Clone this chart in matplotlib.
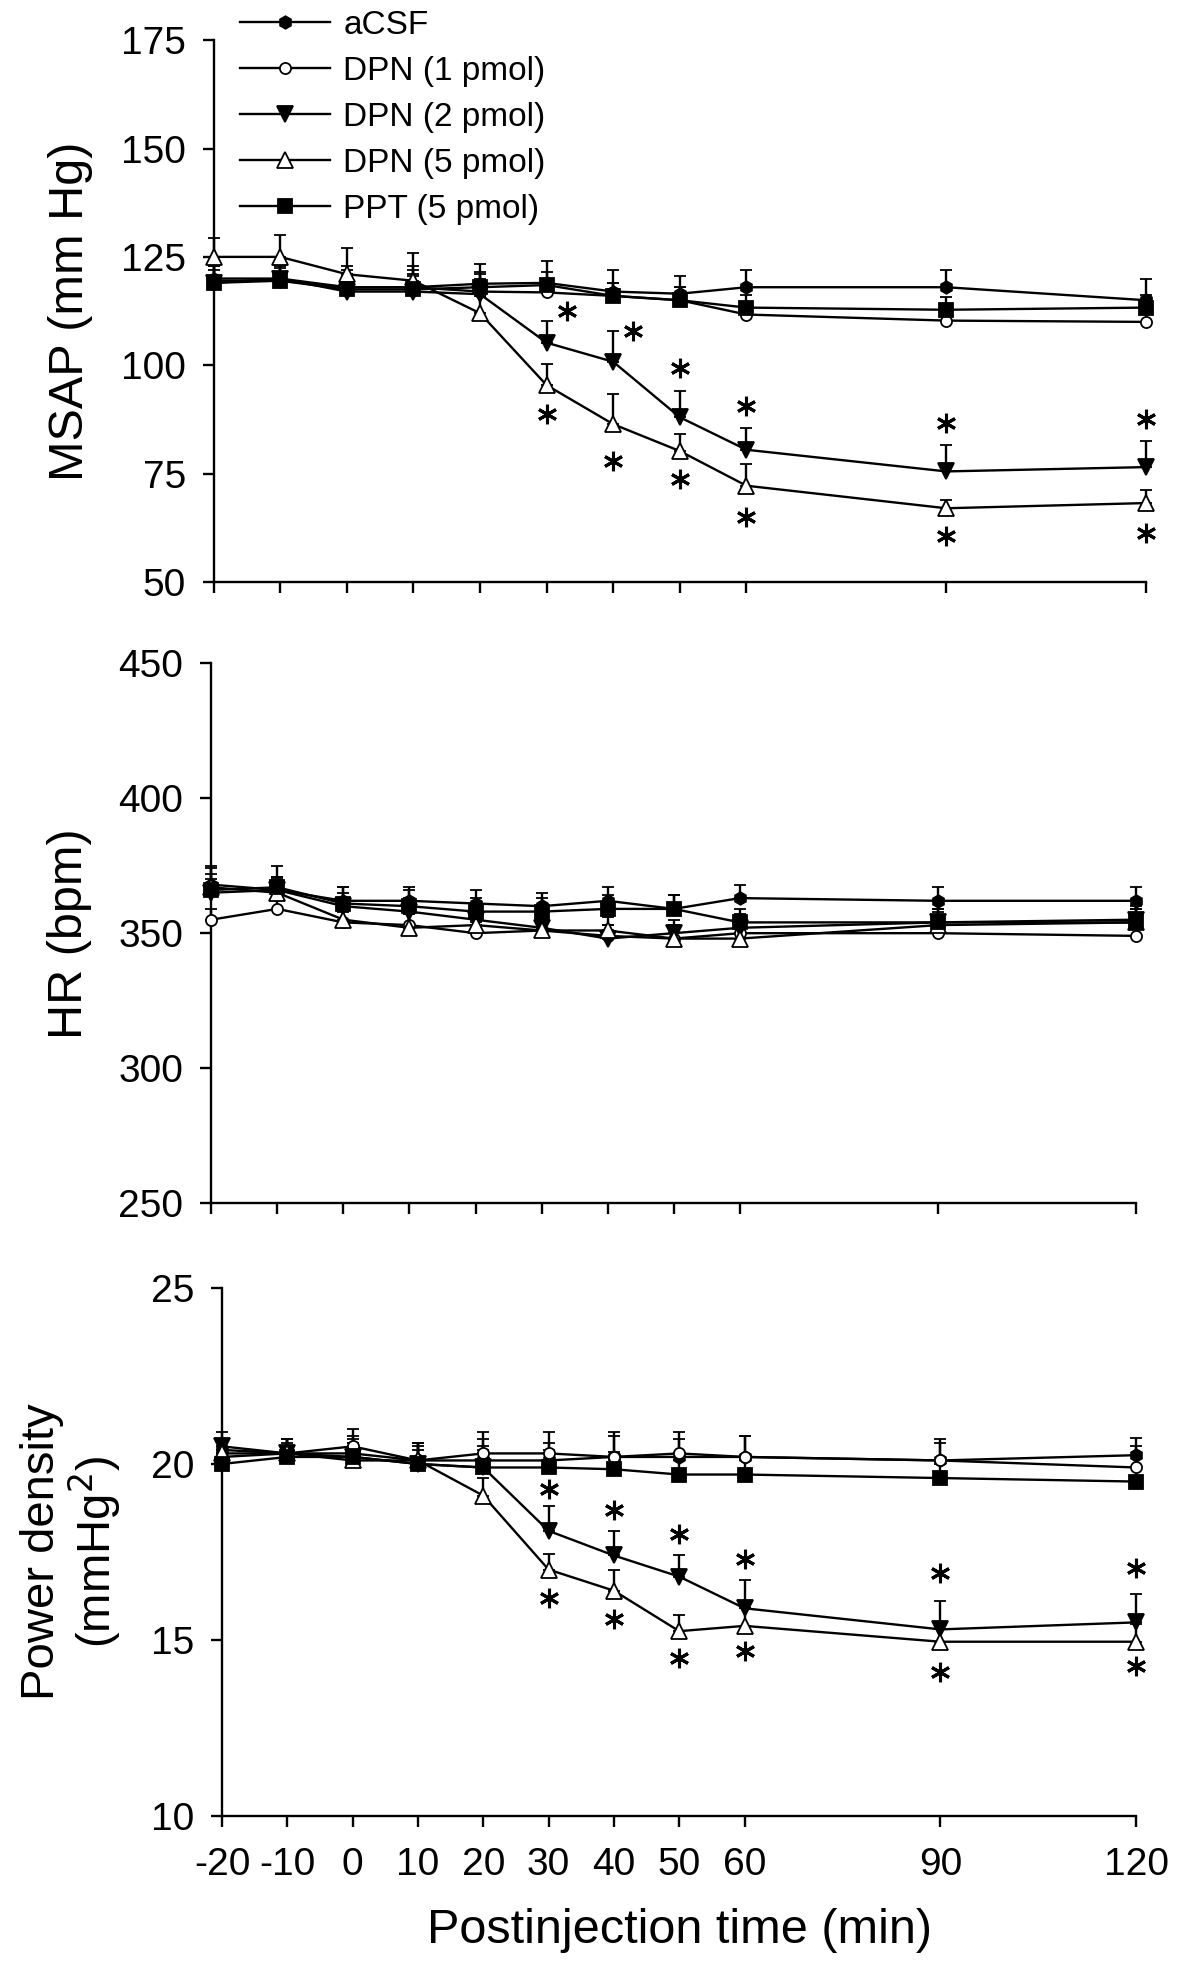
import numpy as np
import matplotlib
matplotlib.use("Agg")
import matplotlib.pyplot as plt

plt.rcParams['font.family'] = ['Liberation Sans', 'DejaVu Sans']

# time points (min)
times = [-20, -10, 0, 10, 20, 30, 40, 50, 60, 90, 120]
tick_labels = ['-20', '-10', '0', '10', '20', '30', '40', '50', '60', '90', '120']
groups = ['aCSF', 'DPN (1 pmol)', 'DPN (2 pmol)', 'DPN (5 pmol)', 'PPT (5 pmol)']

# MSAP (mm Hg), mean and SE
msap_acsf = [119.5, 119.5, 118, 118, 118.8, 119, 117, 116.5, 118, 118, 115]
msap_dpn1 = [120, 120, 118, 118, 117, 116.8, 116, 115, 111.7, 110.3, 110]
msap_dpn2 = [119, 120, 117, 117, 116.4, 105.2, 100.8, 88, 80.5, 75.5, 76.5]
msap_dpn5 = [125, 125, 121, 119.5, 112, 95.4, 86.4, 80.2, 72.2, 67, 68.2]
msap_ppt = [119, 119.5, 117.5, 117.5, 118, 118.5, 116, 115, 113.3, 112.8, 113.3]
msap_se_acsf = [4, 4, 5, 5, 4.5, 5, 5, 4, 4, 4, 5]
msap_se_dpn1 = [3, 3, 3, 3, 3, 3, 3, 3, 3, 3, 3]
msap_se_dpn2 = [4, 4, 5, 5, 5, 5, 7, 6, 5, 6, 6]
msap_se_dpn5 = [4.3, 5, 6, 6.5, 4, 5, 7, 4, 5, 2, 3]
msap_se_ppt = [3, 3, 3, 3, 3, 3, 3, 3, 3, 3, 3]
msap_star_x = [33, 43, 50, 60, 90, 120, 30, 40, 50, 60, 90, 120]
msap_star_y = [112.5, 108, 99.3, 90.5, 86.6, 87.5, 88.8, 78, 73.8, 65, 60.6, 61.3]

# HR (bpm)
hr_acsf = [368, 366, 362, 362, 361, 360, 362, 359, 363, 362, 362]
hr_dpn1 = [355, 359, 354, 353, 350, 351, 349, 348, 350, 350, 349]
hr_dpn2 = [365, 366, 360, 358, 355, 352, 348, 350, 352, 354, 355]
hr_dpn5 = [367, 365, 355, 352, 353, 351, 351, 348, 348, 353, 354]
hr_ppt = [366, 367, 361, 360, 358, 358, 359, 359, 354, 354, 354]
hr_se_acsf = [6, 5, 5, 5, 5, 5, 5, 5, 5, 5, 5]
hr_se_dpn1 = [4, 4, 4, 4, 4, 4, 4, 4, 4, 4, 4]
hr_se_dpn2 = [5, 5, 5, 5, 5, 5, 5, 5, 5, 5, 5]
hr_se_dpn5 = [5, 5, 5, 5, 5, 5, 5, 5, 5, 5, 5]
hr_se_ppt = [9, 8, 6, 6, 5, 5, 5, 5, 5, 5, 5]

# Power density (mmHg^2)
pd_acsf = [20.4, 20.3, 20.3, 20.1, 20.1, 20.1, 20.2, 20.2, 20.2, 20.1, 20.25]
pd_dpn1 = [20.2, 20.3, 20.5, 20.1, 20.3, 20.3, 20.2, 20.3, 20.2, 20.1, 19.9]
pd_dpn2 = [20.5, 20.3, 20.2, 20.0, 19.9, 18.1, 17.4, 16.8, 15.9, 15.3, 15.5]
pd_dpn5 = [20.3, 20.3, 20.1, 20.1, 19.1, 17.0, 16.4, 15.25, 15.4, 14.95, 14.95]
pd_ppt = [20.0, 20.2, 20.2, 20.0, 19.9, 19.9, 19.85, 19.7, 19.7, 19.6, 19.5]
pd_se_acsf = [0.3, 0.4, 0.5, 0.5, 0.6, 0.5, 0.6, 0.5, 0.6, 0.5, 0.5]
pd_se_dpn1 = [0.4, 0.4, 0.5, 0.5, 0.6, 0.6, 0.7, 0.6, 0.6, 0.6, 0.6]
pd_se_dpn2 = [0.4, 0.4, 0.5, 0.5, 0.6, 0.7, 0.7, 0.6, 0.8, 0.8, 0.8]
pd_se_dpn5 = [0.4, 0.4, 0.5, 0.5, 0.5, 0.45, 0.6, 0.45, 0.5, 0.5, 0.5]
pd_se_ppt = [0.4, 0.4, 0.4, 0.4, 0.5, 0.5, 0.5, 0.4, 0.4, 0.4, 0.4]
pd_star_x = [30, 40, 50, 60, 90, 120, 30, 40, 50, 60, 90, 120]
pd_star_y = [19.3, 18.7, 18.0, 17.3, 16.9, 17.05, 16.2, 15.6, 14.5, 14.7, 14.1, 14.25]

styles = [
    dict(marker='h', ms=9, mfc='black'),
    dict(marker='o', ms=8, mfc='white'),
    dict(marker='v', ms=11, mfc='black'),
    dict(marker='^', ms=11, mfc='white'),
    dict(marker='s', ms=10, mfc='black'),
]


def draw_panel(ax, means, ses, ylim, yticks, stars_x=None, stars_y=None):
    for m, se, st, name in zip(means, ses, styles, groups):
        m = np.array(m)
        se = np.array(se)
        ax.errorbar(times, m, yerr=[np.zeros_like(se), se], color='black',
                    lw=1.7, elinewidth=1.7, capsize=4.5, capthick=1.7,
                    marker=st['marker'], ms=st['ms'], mfc=st['mfc'],
                    mec='black', mew=1.3, clip_on=False, label=name, zorder=3)
    if stars_x is not None:
        ax.plot(stars_x, stars_y, ls='none', marker=(6, 2, 0), ms=14,
                mew=2.2, color='black', clip_on=False)
    ax.set_xlim(-20, 120)
    ax.set_ylim(*ylim)
    ax.set_yticks(yticks)
    ax.set_xticks(times)
    for s in ['top', 'right']:
        ax.spines[s].set_visible(False)
    for s in ['left', 'bottom']:
        ax.spines[s].set_linewidth(1.7)
    ax.tick_params(direction='out', length=8, width=1.7, labelsize=28)
    ax.tick_params(axis='y', pad=12)
    ax.tick_params(axis='x', pad=14)


fig = plt.figure(figsize=(12, 19.7), dpi=100)
ax1 = fig.add_axes([0.178, 0.7046, 0.777, 0.275])
ax2 = fig.add_axes([0.176, 0.3893, 0.771, 0.274])
ax3 = fig.add_axes([0.185, 0.0782, 0.762, 0.268])

draw_panel(ax1, [msap_acsf, msap_dpn1, msap_dpn2, msap_dpn5, msap_ppt],
           [msap_se_acsf, msap_se_dpn1, msap_se_dpn2, msap_se_dpn5, msap_se_ppt],
           (50, 175), [50, 75, 100, 125, 150, 175], msap_star_x, msap_star_y)
draw_panel(ax2, [hr_acsf, hr_dpn1, hr_dpn2, hr_dpn5, hr_ppt],
           [hr_se_acsf, hr_se_dpn1, hr_se_dpn2, hr_se_dpn5, hr_se_ppt],
           (250, 450), [250, 300, 350, 400, 450])
draw_panel(ax3, [pd_acsf, pd_dpn1, pd_dpn2, pd_dpn5, pd_ppt],
           [pd_se_acsf, pd_se_dpn1, pd_se_dpn2, pd_se_dpn5, pd_se_ppt],
           (10, 25), [10, 15, 20, 25], pd_star_x, pd_star_y)

ax1.set_xticklabels([])
ax2.set_xticklabels([])
ax3.set_xticklabels(tick_labels)

ax1.set_ylabel('MSAP (mm Hg)', fontsize=35)
ax1.yaxis.set_label_coords(-0.129, 0.5)
ax2.set_ylabel('HR (bpm)', fontsize=35)
ax2.yaxis.set_label_coords(-0.129, 0.5)
ax3.set_ylabel('Power density\n(mmHg$^2$)', fontsize=34, linespacing=1.05)
ax3.yaxis.set_label_coords(-0.108, 0.5)
ax3.set_xlabel('Postinjection time (min)', fontsize=35, labelpad=18)

# legend: line + marker only, no error bars
handles = [plt.Line2D([], [], color='black', lw=1.7, marker=st['marker'],
                      ms=st['ms'], mfc=st['mfc'], mec='black', mew=1.3)
           for st in styles]
fig.legend(handles, groups, loc='upper left', bbox_to_anchor=(0.2, 0.995),
           frameon=False, fontsize=24, handlelength=2.7, handletextpad=0.4,
           labelspacing=0.45, borderpad=0, borderaxespad=0)

fig.savefig('out.png', dpi=100)
